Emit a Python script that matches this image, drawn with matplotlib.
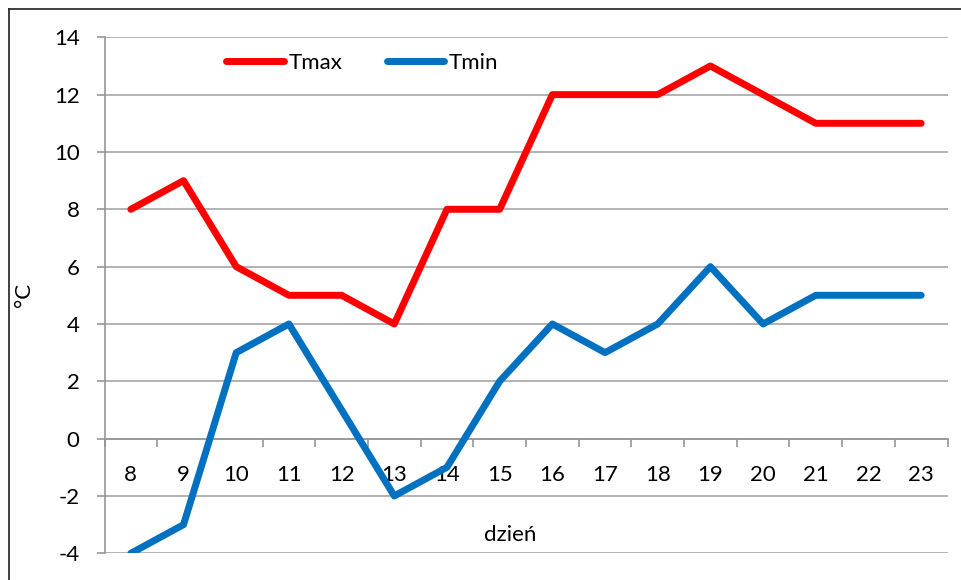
import matplotlib
matplotlib.use("Agg")
import matplotlib.pyplot as plt
from matplotlib.lines import Line2D

days = [8, 9, 10, 11, 12, 13, 14, 15, 16, 17, 18, 19, 20, 21, 22, 23]
tmax = [8, 9, 6, 5, 5, 4, 8, 8, 12, 12, 12, 13, 12, 11, 11, 11]
tmin = [-4, -3, 3, 4, 1, -2, -1, 2, 4, 3, 4, 6, 4, 5, 5, 5]
y_ticks = [-4, -2, 0, 2, 4, 6, 8, 10, 12, 14]

W, H = 961, 580


def main():
    plt.rcParams['font.family'] = ['Lato', 'DejaVu Sans']
    fig = plt.figure(figsize=(W / 100, H / 100), dpi=100)
    fig.patch.set_facecolor('white')

    left, right, top, bottom = 104.5, 947.5, 37.3, 553.3
    ax = fig.add_axes([left / W, 1 - bottom / H, (right - left) / W, (bottom - top) / H])

    x = list(range(len(days)))
    ax.plot(x, tmax, color='#FF0000', lw=5, solid_capstyle='round',
            solid_joinstyle='round', label='Tmax', zorder=3)
    ax.plot(x, tmin, color='#0070C0', lw=5, solid_capstyle='round',
            solid_joinstyle='round', label='Tmin', zorder=3)

    ax.set_xlim(-0.5, len(days) - 0.5)
    ax.set_ylim(-4, 14)
    ax.set_yticks(y_ticks)
    ax.set_yticklabels([str(v) for v in y_ticks])
    ax.grid(axis='y', color='#A6A6A6', lw=1.2)
    ax.set_axisbelow(True)

    for s in ['top', 'right']:
        ax.spines[s].set_visible(False)
    ax.spines['left'].set_color('#969696')
    ax.spines['left'].set_linewidth(1.2)
    ax.spines['bottom'].set_position(('data', 0))
    ax.spines['bottom'].set_color('#969696')
    ax.spines['bottom'].set_linewidth(1.2)

    ax.set_xticks(x)
    ax.set_xticklabels([str(d) for d in days])
    ax.set_xticks([i - 0.5 for i in range(len(days) + 1)], minor=True)
    ax.tick_params(axis='x', which='major', length=0, pad=19, labelsize=16)
    ax.tick_params(axis='x', which='minor', length=6, width=1.2, color='#969696',
                   direction='out')
    ax.tick_params(axis='y', length=6, width=1.2, color='#969696', pad=12, labelsize=16)

    ax.legend(loc='center left', bbox_to_anchor=(226 / W, 1 - 63 / H),
              bbox_transform=fig.transFigure, ncol=2, frameon=False, fontsize=16,
              handlelength=2.6, handletextpad=0.2, columnspacing=2.0,
              borderaxespad=0, borderpad=0)

    fig.text(24 / W, 1 - 295 / H, '°C', rotation=90, ha='center', va='center', fontsize=16)
    fig.text(510 / W, 1 - 535 / H, 'dzień', ha='center', va='center', fontsize=16)

    fig.add_artist(Line2D([8.5 / W, 8.5 / W], [0, 1 - 8.5 / H], color='#202020', lw=1.2,
                          transform=fig.transFigure))
    fig.add_artist(Line2D([8.5 / W, 1], [1 - 8.5 / H, 1 - 8.5 / H], color='#202020', lw=1.2,
                          transform=fig.transFigure))

    fig.savefig('out.png', dpi=100)


if __name__ == '__main__':
    main()
